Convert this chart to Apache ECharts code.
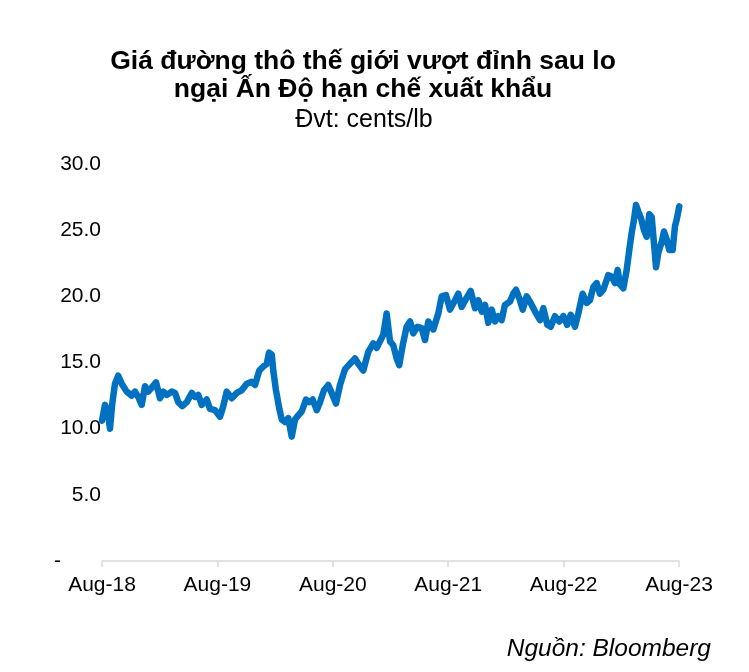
<!DOCTYPE html>
<html>
<head>
<meta charset="utf-8">
<script src="https://cdn.jsdelivr.net/npm/echarts@6/dist/echarts.min.js"></script>
<style>
  html, body { margin: 0; padding: 0; background: #fff; }
  #chart { width: 749px; height: 672px; }
</style>
</head>
<body>
<div id="chart"></div>
<script>
// tick labels on the x axis, one every 12 months starting Aug 2018
const tickLabels = ['Aug-18', 'Aug-19', 'Aug-20', 'Aug-21', 'Aug-22', 'Aug-23']

// months elapsed since Aug 2018
const months = [
  0, 0.31, 0.59, 0.83, 1.07, 1.35, 1.69, 2.05, 2.57, 3.09,
  3.43, 3.77, 4.13, 4.47, 4.81, 5.17, 5.62, 6.03, 6.37, 6.73,
  7.25, 7.59, 7.93, 8.35, 8.81, 9.33, 9.67, 10.01, 10.37, 10.89,
  11.23, 11.75, 12.27, 12.61, 12.97, 13.49, 14.01, 14.53, 15.05, 15.57,
  15.91, 16.36, 16.77, 17.13, 17.37, 17.65, 17.81, 18.09, 18.44, 18.69,
  19.03, 19.37, 19.73, 20.07, 20.41, 20.77, 21.21, 21.56, 21.91, 22.33,
  22.67, 23.08, 23.53, 23.88, 24.33, 24.75, 25.27, 25.79, 26.31, 26.65,
  27.17, 27.69, 28.21, 28.56, 28.91, 29.25, 29.6, 29.95, 30.29, 30.64,
  30.91, 31.27, 31.68, 32.03, 32.37, 32.79, 33.24, 33.59, 33.93, 34.45,
  34.97, 35.32, 35.77, 36.19, 36.71, 37.05, 37.4, 37.92, 38.34, 38.79,
  39.13, 39.49, 39.83, 40.17, 40.52, 40.86, 41.21, 41.56, 41.9, 42.42,
  42.77, 43.05, 43.39, 43.75, 44.16, 44.58, 45.03, 45.55, 45.89, 46.31,
  46.66, 47.1, 47.55, 47.97, 48.38, 48.74, 49.18, 49.53, 49.98, 50.4,
  50.74, 51.09, 51.44, 51.78, 52.13, 52.65, 53.0, 53.34, 53.62, 53.86,
  54.21, 54.56, 54.83, 55.08, 55.32, 55.53, 55.77, 56.05, 56.36, 56.64,
  56.91, 57.16, 57.4, 57.61, 57.85, 58.2, 58.44, 58.72, 58.99, 59.34,
  59.58, 59.76, 60.03
]

// raw sugar price, cents/lb
const prices = [
  10.6, 11.8, 11.3, 10.0, 11.9, 13.4, 14.0, 13.4, 12.8, 12.5,
  12.8, 12.4, 11.8, 13.2, 12.8, 13.1, 13.5, 12.3, 12.8, 12.55,
  12.8, 12.7, 12.0, 11.7, 12.0, 12.7, 12.4, 12.55, 11.8, 12.2,
  11.5, 11.4, 10.9, 11.7, 12.8, 12.3, 12.7, 12.9, 13.4, 13.55,
  13.3, 14.4, 14.7, 14.9, 15.75, 15.6, 14.4, 12.9, 11.5, 10.7,
  10.5, 10.8, 9.4, 10.7, 11.0, 11.3, 12.2, 12.0, 12.2, 11.4,
  12.0, 12.9, 13.3, 12.7, 11.9, 13.3, 14.5, 14.9, 15.3, 14.9,
  14.4, 15.8, 16.45, 16.1, 16.6, 17.1, 18.7, 16.6, 16.3, 15.3,
  14.8, 16.3, 17.7, 18.1, 17.2, 17.7, 17.6, 16.7, 18.1, 17.5,
  18.7, 20.0, 20.1, 19.0, 19.7, 20.2, 19.2, 19.9, 20.4, 19.1,
  19.7, 18.85, 19.35, 18.0, 19.0, 18.1, 18.5, 18.2, 19.35, 19.6,
  20.2, 20.5, 19.85, 19.0, 20.0, 19.5, 18.85, 18.2, 19.1, 17.85,
  17.7, 18.5, 18.1, 18.5, 17.85, 18.6, 17.7, 18.7, 20.2, 19.5,
  19.7, 20.7, 21.0, 20.2, 20.5, 21.6, 21.5, 21.0, 22.0, 20.9,
  20.6, 22.0, 23.5, 24.8, 25.8, 26.9, 26.4, 25.9, 25.0, 24.5,
  26.2, 26.0, 24.0, 22.2, 23.3, 24.1, 24.9, 24.3, 23.5, 23.5,
  25.3, 25.8, 26.8
]

const chart = echarts.init(document.getElementById('chart'))
const font = "'Liberation Sans', Arial, sans-serif"

chart.setOption({
  animation: false,
  backgroundColor: '#fff',
  textStyle: { fontFamily: font },
  title: [
    {
      text: 'Giá đường thô thế giới vượt đỉnh sau lo\nngại Ấn Độ hạn chế xuất khẩu',
      left: 358,
      top: 43,
      textAlign: 'center',
      textStyle: { fontFamily: font, fontSize: 26.5, fontWeight: 'bold', lineHeight: 28, color: '#000' }
    },
    {
      text: 'Đvt: cents/lb',
      left: 359,
      top: 101,
      textAlign: 'center',
      textStyle: { fontFamily: font, fontSize: 25, fontWeight: 'normal', lineHeight: 28, color: '#000' }
    },
    {
      text: 'Nguồn: Bloomberg',
      right: 33,
      top: 632,
      textStyle: { fontFamily: font, fontSize: 24.5, fontStyle: 'italic', fontWeight: 'normal', color: '#000' }
    }
  ],
  grid: { left: 102, right: 70, top: 164, bottom: 111 },
  xAxis: {
    type: 'value',
    min: 0,
    max: 60,
    interval: 12,
    splitLine: { show: false },
    axisLine: { show: true, lineStyle: { color: '#d9d9d9', width: 1.5 } },
    axisTick: { show: true, length: 6, lineStyle: { color: '#d9d9d9', width: 1.5 } },
    axisLabel: {
      margin: 14,
      fontSize: 21,
      color: '#000',
      formatter: v => tickLabels[Math.round(v / 12)]
    }
  },
  yAxis: {
    type: 'value',
    min: 0,
    max: 30,
    interval: 5,
    splitLine: { show: false },
    axisLine: { show: false },
    axisTick: { show: false },
    axisLabel: {
      margin: 1,
      fontSize: 21,
      color: '#000',
      formatter: v => (v === 0 ? '{z|-}' : v.toFixed(1)),
      rich: { z: { fontSize: 21, color: '#000', padding: [0, 40, 0, 0] } }
    }
  },
  series: [
    {
      type: 'line',
      data: months.map((m, i) => [m, prices[i]]),
      showSymbol: false,
      clip: false,
      lineStyle: { color: '#0070c0', width: 6.5, cap: 'round', join: 'round' }
    }
  ]
})
</script>
</body>
</html>
